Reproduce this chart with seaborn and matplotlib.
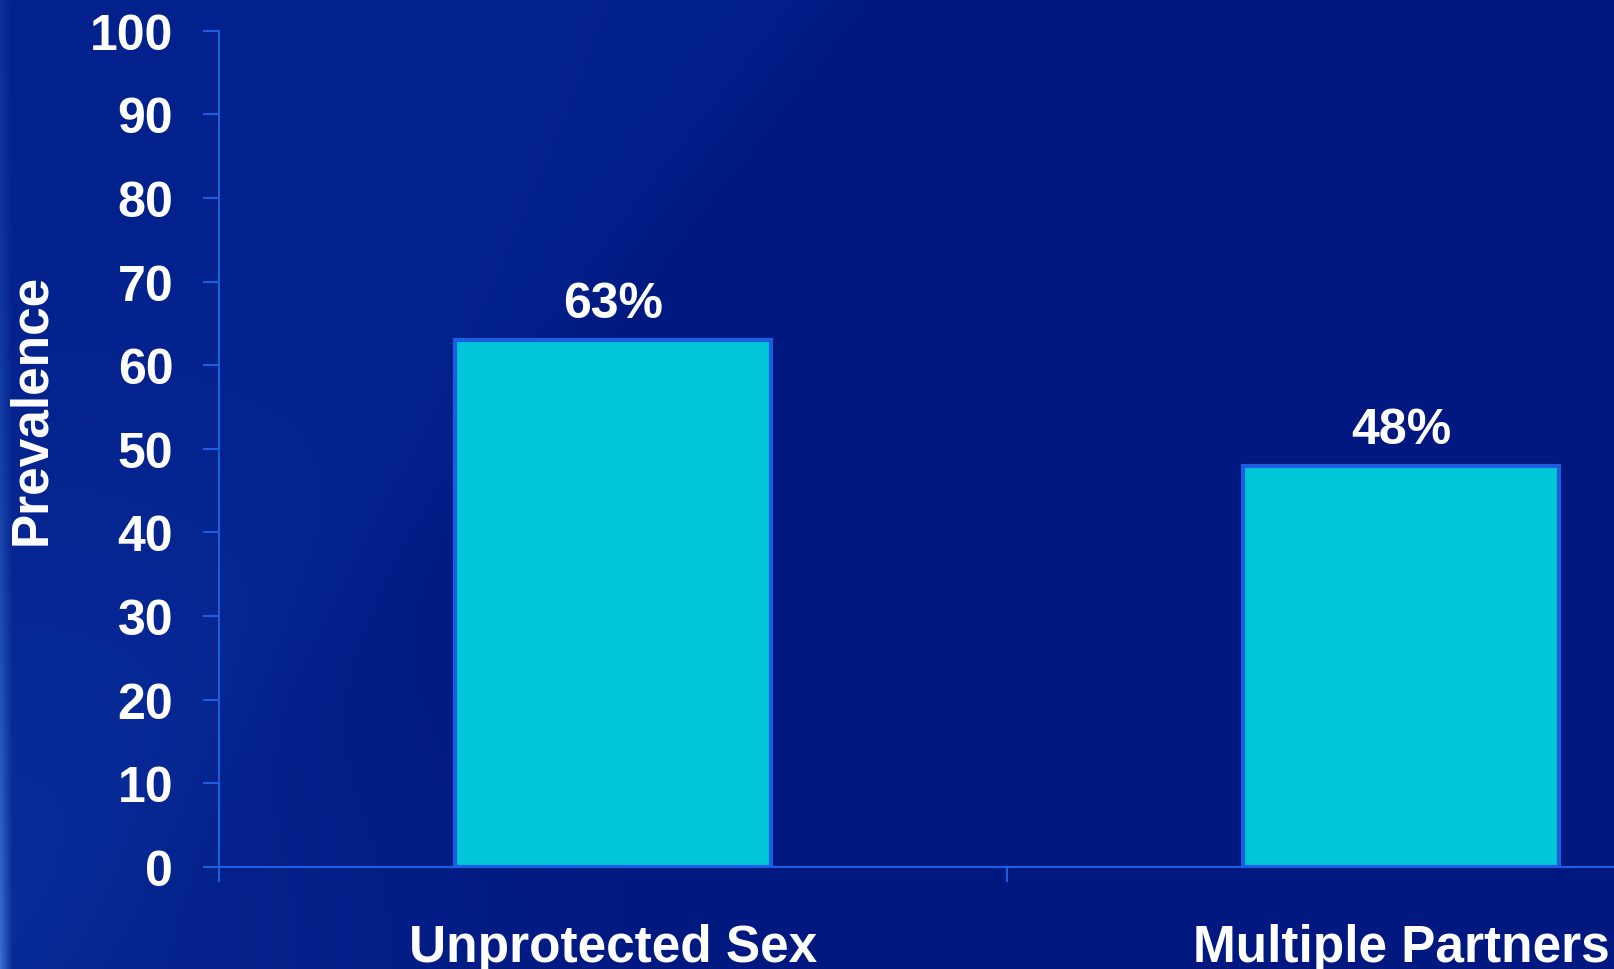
import numpy as np
import pandas as pd
import matplotlib
matplotlib.use("Agg")
import matplotlib.pyplot as plt
import seaborn as sns

# Prevalence of risk behaviours (%)
categories = ["Unprotected Sex", "Multiple Partners"]
values = [63, 48]
yticks = [0, 10, 20, 30, 40, 50, 60, 70, 80, 90, 100]

df = pd.DataFrame({"behaviour": categories, "prevalence": values})

sns.set_theme(style="white")
plt.rcParams["font.family"] = ["Liberation Sans", "DejaVu Sans"]
plt.rcParams["font.weight"] = "bold"

W, H, DPI = 1614, 970, 100
fig = plt.figure(figsize=(W / DPI, H / DPI), dpi=DPI)

# Slide background: deep blue with a soft lighter sweep on the left side
yy, xx = np.mgrid[0:H, 0:W].astype(float)
base = np.array([0, 24, 128]) / 255.0
img = np.ones((H, W, 3)) * base
band = 1.0 / (1.0 + np.exp(((xx + 0.8 * yy) - 820.0) / 40.0))
img += band[..., None] * (np.array([3, 9, 12]) / 255.0)
glow = np.exp(-((xx) ** 2 + (H - yy) ** 2) / (2 * 330.0 ** 2))
img += glow[..., None] * (np.array([6, 12, 14]) / 255.0)
# light edge strip along the left border
strip = np.clip((12.0 - xx) / 12.0, 0, 1) * (0.2 + 0.8 * (yy / H) ** 2)
edge_col = np.array([70, 135, 225]) / 255.0
img = img * (1 - strip[..., None] * 0.75) + edge_col * strip[..., None] * 0.75
img = np.clip(img, 0, 1)
bg = fig.add_axes([0, 0, 1, 1], zorder=-10)
bg.imshow(img, aspect="auto", interpolation="bilinear")
bg.set_axis_off()

# Plot area (extends past the right edge of the canvas)
left, bottom = 219 / W, 1 - 868 / H
width, height = 1576 / W, 836.3 / H
ax = fig.add_axes([left, bottom, width, height])
ax.set_facecolor("none")

axis_blue = "#1d5ee0"
sns.barplot(data=df, x="behaviour", y="prevalence", color="#00c6d7",
            saturation=1, width=0.4, edgecolor=axis_blue, linewidth=3,
            ax=ax)

ax.set_xlim(-0.5, 1.5)
ax.set_ylim(0, 100)
ax.set_yticks(yticks)
ax.set_yticklabels([str(t) for t in yticks])

for side in ("top", "right"):
    ax.spines[side].set_visible(False)
for side in ("left", "bottom"):
    ax.spines[side].set_color(axis_blue)
    ax.spines[side].set_linewidth(1.5)

ax.tick_params(axis="y", which="major", length=11.5, width=1.5,
               color=axis_blue, pad=21.5, labelsize=36, labelcolor="white",
               left=True)
ax.tick_params(axis="x", which="major", length=0, pad=40,
               labelsize=37, labelcolor="white")
ax.set_xticks([-0.5, 0.5, 1.5], minor=True)
ax.tick_params(axis="x", which="minor", length=11, width=1.5,
               color=axis_blue, bottom=True)
for lab in ax.get_xticklabels() + ax.get_yticklabels():
    lab.set_fontweight("bold")

ax.set_xlabel("")
ax.set_ylabel("")
ax.text((32 - 219) / 1576, (868 - 409) / 836.3, "Prevalence",
        transform=ax.transAxes, rotation=90, ha="center", va="center",
        fontsize=37, fontweight="bold", color="white")

# Value labels above each bar
for i, v in enumerate(values):
    ax.annotate(f"{v}%", xy=(i, v), xytext=(0, 16.5),
                textcoords="offset points", ha="center", va="baseline",
                fontsize=36, fontweight="bold", color="white")

fig.savefig("out.png", dpi=DPI)
